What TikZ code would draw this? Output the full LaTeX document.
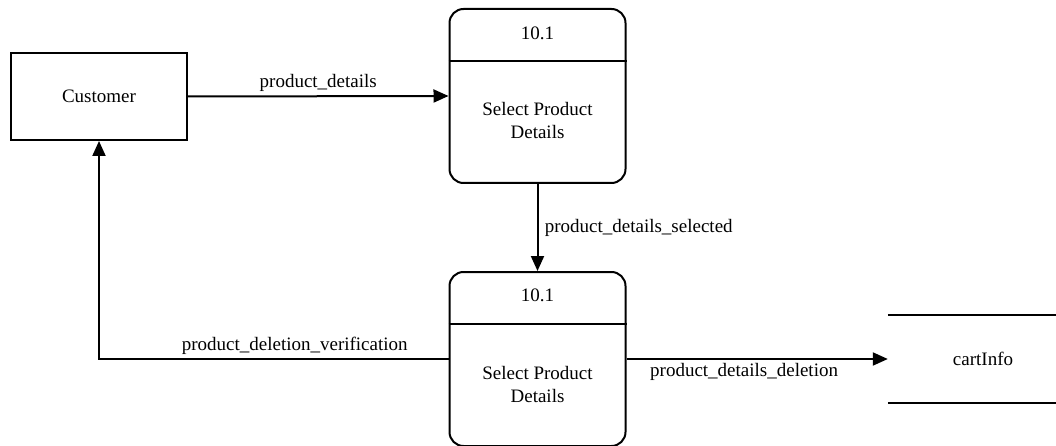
\documentclass[tikz,border=0pt]{standalone}
\usepackage{fontspec}
\setmainfont{Liberation Serif}
\usetikzlibrary{arrows.meta}
\begin{document}
\begin{tikzpicture}[x=1pt,y=-1pt,
  font=\fontsize{19}{23}\selectfont,
  entity/.style={draw,line width=2pt,minimum width=176pt,minimum height=87pt},
  process/.style={draw,line width=2pt,rounded corners=14pt,minimum width=176pt,minimum height=174pt},
  flow/.style={line width=2pt,-{Triangle[length=15pt,width=13pt]}}]
\useasboundingbox (0,0) rectangle (1056,446);
\node[entity] (cust) at (99,96.5) {Customer};
\node[process] (p1) at (537.5,96) {};
\node[process] (p2) at (537.5,359) {};
\node (p1id) at ([yshift=-25pt]p1.north) {10.1};
\node (p2id) at ([yshift=-24pt]p2.north) {10.1};
\draw[line width=2pt] ([yshift=-53pt]p1.north west) -- ([yshift=-53pt]p1.north east);
\draw[line width=2pt] ([yshift=-53pt]p2.north west) -- ([yshift=-53pt]p2.north east);
\node[align=center] (p1txt) at ([yshift=-25pt]p1.center) {Select Product\\Details};
\node[align=center] (p2txt) at ([yshift=-25pt]p2.center) {Select Product\\Details};
\node[minimum width=190pt,minimum height=88pt] (store) at (983,359) {cartInfo};
\coordinate (edge) at (1056,359);
\draw[line width=2pt] (store.north west) -- (store.north west -| edge);
\draw[line width=2pt] (store.south west) -- (store.south west -| edge);

\draw[flow] (cust.east) -- node[above] {product\_details} (p1.west);
\draw[flow] (p1.south) -- node[right,xshift=3pt] {product\_details\_selected} (p2.north);
\draw[flow] (p2.west) -| node[pos=0.22,above] {product\_deletion\_verification} (cust.south);
\draw[flow] (p2.east) -- node[pos=0.45,below] {product\_details\_deletion} (store.west);
\end{tikzpicture}
\end{document}
